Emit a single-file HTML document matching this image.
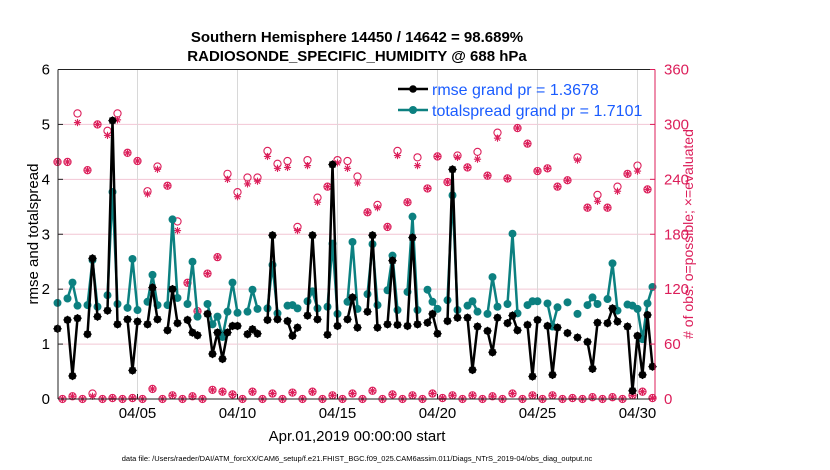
<!DOCTYPE html>
<html><head><meta charset="utf-8"><style>
body{margin:0;background:#fff}
svg{display:block;font-family:"Liberation Sans",Arial,sans-serif}
</style></head><body>
<svg id="chart" width="830" height="470" viewBox="0 0 830 470">
<g font-weight="bold" font-size="15" text-anchor="middle" fill="#000">
<text x="357" y="42">Southern Hemisphere 14450 / 14642 = 98.689%</text>
<text x="357" y="61">RADIOSONDE_SPECIFIC_HUMIDITY @ 688 hPa</text>
</g>
<g id="grid"></g>
<g id="marks"></g>
<g id="axes"></g>
<text x="0" y="0" transform="translate(38,234) rotate(-90)" text-anchor="middle" font-size="15">rmse and totalspread</text>
<text x="0" y="0" transform="translate(693,234) rotate(-90)" text-anchor="middle" font-size="14" fill="#dc1e5a"># of obs: o=possible; ×=evaluated</text>
<text x="357" y="441" text-anchor="middle" font-size="15">Apr.01,2019 00:00:00 start</text>
<text x="357" y="461" text-anchor="middle" font-size="7.5">data file: /Users/raeder/DAI/ATM_forcXX/CAM6_setup/f.e21.FHIST_BGC.f09_025.CAM6assim.011/Diags_NTrS_2019-04/obs_diag_output.nc</text>
<g>
<line x1="398" y1="89" x2="428" y2="89" stroke="#000" stroke-width="2.5"/>
<circle cx="413" cy="89" r="3.8" fill="#000"/>
<text x="432" y="95" font-size="16" fill="#1a5cff">rmse grand pr = 1.3678</text>
<line x1="398" y1="110" x2="428" y2="110" stroke="#0c8080" stroke-width="2.5"/>
<circle cx="413" cy="110" r="4" fill="#0c8080"/>
<text x="432" y="116" font-size="16" fill="#1a5cff">totalspread grand pr = 1.7101</text>
</g>
</svg>
<script>
const rmse = [
1.28,null,1.44,0.42,1.47,null,1.18,2.56,1.50,null,
1.61,5.07,1.36,null,1.45,0.52,1.41,null,1.36,2.03,
1.45,null,1.25,2.00,1.38,null,1.44,1.21,1.16,null,
1.55,0.82,1.21,0.73,1.21,1.33,1.33,null,1.18,1.27,
1.19,null,1.44,2.98,1.45,null,1.42,1.15,1.30,null,
1.52,2.98,1.45,null,1.17,4.27,1.33,null,1.45,1.85,
1.30,null,1.59,2.98,1.30,null,1.36,2.52,1.35,null,
1.33,2.94,1.36,null,1.39,1.55,1.19,null,1.42,4.18,
1.48,null,1.48,0.53,1.32,null,1.24,0.85,1.48,null,
1.38,1.52,1.25,null,1.35,0.41,1.44,null,1.33,0.44,
1.30,null,1.20,null,1.12,null,1.04,0.55,1.39,null,
1.38,1.65,1.41,null,1.32,0.15,1.15,0.44,1.53,0.59];
const spread = [
1.75,null,1.83,2.12,1.70,null,1.71,2.53,1.68,null,
1.89,3.77,1.73,null,1.66,2.55,1.62,null,1.77,2.26,
1.71,null,1.71,3.27,1.84,null,1.73,2.50,1.50,null,
1.73,1.36,1.50,1.13,1.59,2.12,1.57,null,1.59,1.99,
1.64,null,1.65,2.44,1.56,null,1.70,1.71,1.65,null,
1.78,1.96,1.65,null,1.68,2.83,1.55,null,1.77,2.86,
1.64,null,1.91,2.82,1.71,null,1.98,2.61,1.62,null,
1.95,3.32,1.62,null,1.99,1.77,1.64,null,1.80,3.71,
1.62,null,1.70,1.78,1.59,null,1.55,2.22,1.68,null,
1.73,3.01,1.56,null,1.71,1.78,1.78,null,1.74,1.32,
1.67,null,1.76,null,1.55,null,1.71,1.85,1.73,null,
1.82,2.47,1.61,null,1.72,1.70,1.64,1.09,1.74,2.04];
const obsPossible = [
259,0,259,3,312,0,250,6,300,0,
293,1,312,0,269,1,260,0,227,11,
254,0,233,4,194,0,127,3,96,0,
137,10,155,8,246,5,226,0,242,8,
242,0,271,6,257,0,260,7,188,0,
261,8,220,0,232,4,261,0,260,6,
243,0,204,9,212,0,188,5,271,0,
215,4,264,0,230,6,265,1,237,4,
266,0,253,4,270,0,244,3,291,0,
241,6,296,0,279,4,249,0,252,4,
232,0,239,1,264,0,209,2,223,0,
209,2,232,0,246,4,255,8,229,1];
const obsEvaluated = [
259,0,259,3,302,0,250,3,300,0,
288,1,305,0,269,1,260,0,224,11,
251,0,233,4,184,0,127,3,96,0,
137,10,155,8,240,5,221,0,235,8,
238,0,265,6,252,0,253,7,184,0,
255,8,215,0,232,4,258,0,252,6,
236,0,204,9,209,0,188,5,266,0,
215,4,255,0,230,6,265,1,237,4,
264,0,253,4,262,0,244,3,285,0,
241,6,296,0,279,4,249,0,252,4,
232,0,239,1,261,0,209,2,216,0,
209,2,227,0,246,4,249,8,229,1];
const xTickDays = [4,9,14,19,24,29];
const xTickLabels = ["04/05","04/10","04/15","04/20","04/25","04/30"];
const yLeftTicks = [0,1,2,3,4,5,6];
const yRightTicks = [0,60,120,180,240,300,360];

const NS="http://www.w3.org/2000/svg";
const L=58,R=655,T=69.5,B=399;
const RED="#dc1e5a",TEAL="#0c8080";
function xs(day){return 57.5+day*20;}
function yl(v){return B-v*(B-T)/6;}
function yr(n){return B-n*(B-T)/360;}
function mk(tag,attrs,parent){const e=document.createElementNS(NS,tag);for(const k in attrs)e.setAttribute(k,attrs[k]);parent.appendChild(e);return e;}
const grid=document.getElementById('grid'),marks=document.getElementById('marks'),axes=document.getElementById('axes');

yRightTicks.forEach(function(n){
  if(n===0||n===360)return;
  const l=mk('line',{x1:L,x2:R,y1:yr(n),y2:yr(n),stroke:'#f2c6d4','stroke-width':1},grid);
  
  
});
xTickDays.forEach(function(d){
  const l=mk('line',{x1:xs(d),x2:xs(d),y1:T,y2:B,stroke:'#d8d8d8','stroke-width':1},grid);
  
  
});

function star(cx,cy,s,col,parent,name){
  const g=mk('g',{stroke:col,'stroke-width':1.1},parent);
  
  
  mk('line',{x1:cx-s,x2:cx+s,y1:cy,y2:cy},g);
  mk('line',{x1:cx,x2:cx,y1:cy-s,y2:cy+s},g);
  mk('line',{x1:cx-s*0.7,x2:cx+s*0.7,y1:cy-s*0.7,y2:cy+s*0.7},g);
  mk('line',{x1:cx-s*0.7,x2:cx+s*0.7,y1:cy+s*0.7,y2:cy-s*0.7},g);
}
obsPossible.forEach(function(n,i){
  const c=mk('circle',{cx:xs(i/4),cy:yr(n),r:3.6,fill:'none',stroke:RED,'stroke-width':1.1},marks);
  
  
});
obsEvaluated.forEach(function(n,i){
  star(xs(i/4),yr(n),3.6,RED,marks,'obs-evaluated-point');
});

function series(arr,col,name,isRmse){
  let d='',pen=false;
  arr.forEach(function(v,i){
    if(v===null){pen=false;return;}
    d+=(pen?'L':'M')+xs(i/4).toFixed(1)+' '+yl(v).toFixed(1)+' ';pen=true;
  });
  const p=mk('path',{d:d,fill:'none',stroke:col,'stroke-width':2.5,'stroke-linejoin':'round'},marks);
  
  
  arr.forEach(function(v,i){
    if(v===null)return;
    const c=mk('circle',{cx:xs(i/4),cy:yl(v),r:isRmse?3.8:4,fill:col},marks);
    
    
    if(isRmse)star(xs(i/4),yl(v),4.2,col,marks,'rmse-point-star');
  });
}
series(spread,TEAL,'totalspread',false);
series(rmse,'#000','rmse',true);

let a;
a=mk('line',{x1:L,x2:R,y1:T,y2:T,stroke:'#222','stroke-width':1},axes);


a=mk('line',{x1:L,x2:R,y1:B,y2:B,stroke:'#222','stroke-width':1},axes);


a=mk('line',{x1:L,x2:L,y1:T,y2:B,stroke:'#222','stroke-width':1},axes);


a=mk('line',{x1:R,x2:R,y1:T,y2:B,stroke:RED,'stroke-width':1},axes);



yLeftTicks.forEach(function(v){
  mk('line',{x1:L,x2:L+5,y1:yl(v),y2:yl(v),stroke:'#222'},axes);
  const t=mk('text',{x:L-8,y:yl(v)+5,'text-anchor':'end','font-size':15},axes);
  t.textContent=String(v);
  
  
});
yRightTicks.forEach(function(n){
  mk('line',{x1:R-5,x2:R,y1:yr(n),y2:yr(n),stroke:RED},axes);
  const t=mk('text',{x:R+9,y:yr(n)+5,'font-size':15,fill:RED},axes);
  t.textContent=String(n);
  
  
});
xTickDays.forEach(function(d,i){
  mk('line',{x1:xs(d),x2:xs(d),y1:B,y2:B-5,stroke:'#222'},axes);
  const t=mk('text',{x:xs(d),y:B+19,'text-anchor':'middle','font-size':15},axes);
  t.textContent=xTickLabels[i];
  
  
});
</script>
</body></html>
